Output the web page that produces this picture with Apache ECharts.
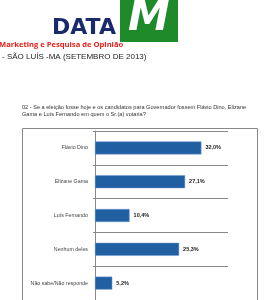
<!DOCTYPE html>
<html><head><meta charset="utf-8">
<script src="https://cdn.jsdelivr.net/npm/echarts@6/dist/echarts.min.js"></script>
<style>html,body{margin:0;padding:0;background:#fff}#c{width:264px;height:300px}</style>
</head><body><div id="c"></div>
<script>
const categories = ['Flávio Dino', 'Elizane Gama', 'Luís Fernando', 'Nenhum deles', 'Não sabe/Não responde'];
const values = [32.0, 27.1, 10.4, 25.3, 5.2];
const subtitle = '- SÃO LUÍS -MA (SETEMBRO DE 2013)';
const question = '02 - Se a eleição fosse hoje e os candidatos para Governador fossem Flávio Dino, Elizane\nGama e Luís Fernando em quem o Sr.(a) votaria?';

const chart = echarts.init(document.getElementById('c'), null, {renderer: 'canvas'});
chart.setOption({
  animation: false,
  backgroundColor: '#fff',
  graphic: [
    {type: 'rect', shape: {x: 120, y: 0, width: 58, height: 42}, style: {fill: '#1f8a2a'}},
    {type: 'text', left: 128, top: -2, style: {text: 'M', fill: '#fff', font: 'italic bold 42px "DejaVu Sans"'}},
    {type: 'text', left: 52, top: 17, style: {text: 'DATA', fill: '#1b2a6b', font: 'bold 22px "DejaVu Sans"'}},
    {type: 'text', left: -1, top: 41, style: {text: 'Marketing e Pesquisa de Opinião', fill: '#e3201b', font: 'bold 7.6px "Open Sans"'}},
    {type: 'text', left: 2, top: 53, style: {text: subtitle, fill: '#222', font: '8px "Liberation Sans"'}},
    {type: 'text', left: 22, top: 104, style: {text: question, fill: '#333', font: '5.6px "Liberation Sans"', lineHeight: 7}},
    {type: 'rect', shape: {x: 22.5, y: 128.5, width: 235, height: 180}, style: {fill: 'none', stroke: '#888', lineWidth: 1}}
  ],
  grid: {left: 95, top: 131, width: 133, height: 170},
  xAxis: {type: 'value', min: 0, max: 40, show: false},
  yAxis: {
    type: 'category', data: categories, inverse: true,
    axisLine: {show: true, lineStyle: {color: '#888'}},
    axisTick: {show: true, length: 2, lineStyle: {color: '#888'}},
    splitLine: {show: true, lineStyle: {color: '#888'}},
    axisLabel: {fontSize: 5.3, color: '#444', margin: 7, fontFamily: 'Liberation Sans'}
  },
  series: [{
    type: 'bar', data: values, barWidth: 13,
    itemStyle: {color: '#215fa3', borderColor: '#6f9ad0', borderWidth: 0.5},
    label: {show: true, position: 'right', distance: 4, fontSize: 5.5, fontWeight: 'bold', color: '#222', fontFamily: 'Liberation Sans',
      formatter: p => p.value.toFixed(1).replace('.', ',') + '%'}
  }]
});
</script></body></html>
